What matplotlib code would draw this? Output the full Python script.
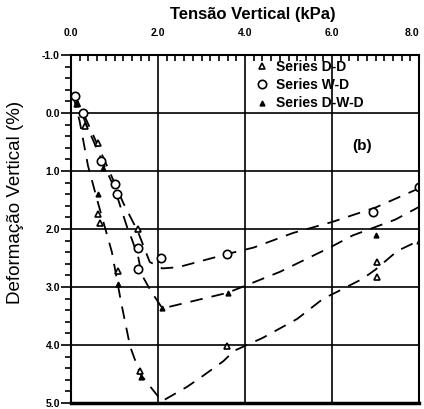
import numpy as np
import matplotlib.pyplot as plt

plt.rcParams['font.family'] = ['Liberation Sans', 'DejaVu Sans']

## VALORES (tensao vertical x deformacao vertical)

xticks = [0.0, 2.0, 4.0, 6.0, 8.0]
xlabels = ['0.0', '2.0', '4.0', '6.0', '8.0']
yticks = [-1.0, 0.0, 1.0, 2.0, 3.0, 4.0, 5.0]
ylabels = ['-1.0', '0.0', '1.0', '2.0', '3.0', '4.0', '5.0']

# curvas tracejadas
dd_line_x = [0.05, 0.2, 0.39, 0.62, 0.94, 1.15, 1.36, 1.59, 2.09, 2.67, 3.0, 3.5, 3.75, 4.4, 5.2, 5.8, 6.1, 6.7, 7.0, 7.5, 8.0]
dd_line_y = [-0.3, 0.15, 0.91, 1.55, 2.4, 3.26, 4.03, 4.5, 4.97, 4.72, 4.55, 4.28, 4.1, 3.88, 3.55, 3.2, 3.09, 2.86, 2.7, 2.38, 2.2]

wd_line_x = [0.09, 0.28, 0.55, 0.85, 1.2, 1.54, 1.81, 2.1, 2.46, 3.6, 4.2, 5.1, 6.0, 7.0, 8.0]
wd_line_y = [-0.3, 0.0, 0.45, 0.95, 1.55, 2.05, 2.57, 2.68, 2.66, 2.43, 2.32, 2.07, 1.88, 1.63, 1.3]

dwd_line_x = [0.09, 0.35, 0.7, 1.0, 1.29, 1.4, 1.55, 1.62, 1.82, 2.1, 3.6, 4.8, 5.95, 6.48, 7.45, 8.0]
dwd_line_y = [-0.3, 0.2, 0.8, 1.3, 1.97, 2.18, 2.5, 2.78, 3.05, 3.37, 3.1, 2.74, 2.32, 2.11, 1.84, 1.62]

# pontos medidos
dd_x = [0.32, 0.62, 0.62, 0.66, 1.08, 1.54, 1.59, 3.58, 7.03, 7.03]
dd_y = [0.22, 0.51, 1.75, 1.9, 2.73, 2.0, 4.45, 4.02, 2.57, 2.83]

wd_x = [0.09, 0.28, 0.7, 1.01, 1.06, 1.54, 1.54, 2.07, 3.59, 6.95, 8.0]
wd_y = [-0.3, 0.0, 0.82, 1.23, 1.4, 2.32, 2.69, 2.5, 2.43, 1.7, 1.28]

dwd_x = [0.12, 0.74, 0.62, 1.08, 1.62, 2.09, 3.61, 7.0, 8.0]
dwd_y = [-0.15, 0.95, 1.4, 2.95, 4.55, 3.37, 3.1, 2.11, 2.2]


fig = plt.figure(figsize=(4.24, 4.09), dpi=100)
ax = fig.add_axes([0.1675, 0.0147, 0.8208, 0.851])

ax.plot(dd_line_x, dd_line_y, color='black', lw=1.3, ls=(0, (7, 5)))
ax.plot(wd_line_x, wd_line_y, color='black', lw=1.3, ls=(0, (7, 5)))
ax.plot(dwd_line_x, dwd_line_y, color='black', lw=1.3, ls=(0, (7, 5)))

h1, = ax.plot(dd_x, dd_y, ls='none', marker='^', ms=5, mfc='white', mec='black', mew=1.2)
h2, = ax.plot(wd_x, wd_y, ls='none', marker='o', ms=6, mfc='white', mec='black', mew=1.2)
h3, = ax.plot(dwd_x, dwd_y, ls='none', marker='^', ms=3.5, mfc='black', mec='black')

ax.set_xlim(0, 8)
ax.set_ylim(5, -1)

ax.xaxis.tick_top()
ax.set_xticks(xticks)
ax.set_xticklabels(xlabels, fontsize=7.5, fontweight='bold')
ax.get_xticklabels()[-1].set_horizontalalignment('right')
ax.set_xticks(np.arange(0, 8.01, 0.2), minor=True)
ax.tick_params(axis='x', which='major', length=0, pad=12)
ax.tick_params(axis='x', which='minor', direction='in', length=4, width=1.2, top=True, bottom=False)

ax.set_yticks(yticks)
ax.set_yticklabels(ylabels, fontsize=7.5, fontweight='bold')
ax.set_yticks(np.arange(-1, 5.01, 0.2), minor=True)
ax.tick_params(axis='y', which='major', direction='out', length=7, width=1.2, pad=1)
ax.tick_params(axis='y', which='minor', direction='out', length=4, width=1.2)

ax.grid(True, which='major', color='black', lw=1.2)
for s in ['left', 'top', 'right']:
    ax.spines[s].set_linewidth(1.5)
ax.spines['bottom'].set_linewidth(2.5)

ax.set_ylabel('Deformação Vertical (%)', fontsize=13.5)
ax.yaxis.set_label_coords(-0.135, 0.575)

fig.text(253 / 424, 1 - 14 / 409, 'Tensão Vertical (kPa)', ha='center', va='center',
         fontsize=12, fontweight='bold')

ax.legend([h1, h2, h3], ['Series D-D', 'Series W-D', 'Series D-W-D'],
          loc='upper left', bbox_to_anchor=(0.51, 1.005), frameon=False,
          prop={'size': 10, 'weight': 'bold'}, handlelength=1, handletextpad=0.5,
          labelspacing=0.3, borderpad=0)

ax.text(6.7, 0.57, '(b)', fontsize=11, fontweight='bold', ha='center', va='center')

plt.savefig('out.png', dpi=100)
